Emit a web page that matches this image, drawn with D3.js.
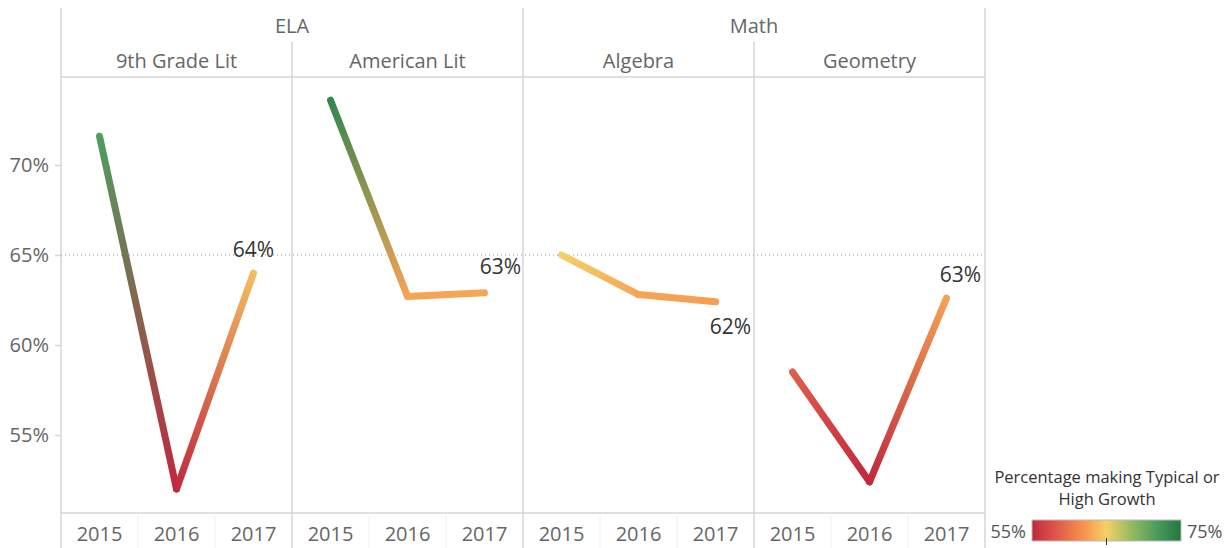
<!DOCTYPE html>
<html lang="en">
<head>
    <meta charset="UTF-8">
    <title>Growth by course</title>
    <style>
        body { margin: 0; background: #fff; }
        svg text { font-family: "Open Sans", Lato, sans-serif; }
    </style>
</head>
<body>
    <div class="canvas"></div>

    <script src="https://d3js.org/d3.v7.min.js"></script>
    <script>
        // data
        const subjects = ["ELA", "Math"];
        const courses = ["9th Grade Lit", "American Lit", "Algebra", "Geometry"];
        const courseSubject = ["ELA", "ELA", "Math", "Math"];
        const years = ["2015", "2016", "2017"];
        const lit9 = [71.6, 52.0, 64.0];
        const amLit = [73.6, 62.7, 62.9];
        const algebra = [65.0, 62.8, 62.4];
        const geometry = [58.5, 52.4, 62.6];
        const yTicks = [55, 60, 65, 70];
        const refValue = 65;
        const legendTicks = [55, 75];

        const series = [lit9, amLit, algebra, geometry];

        const W = 1231, H = 548;
        const left = 61, panelW = 231;
        const plotTop = 77, plotBottom = 513;
        const gridColor = "#d6d6d6";

        const svg = d3.select(".canvas").append("svg")
            .attr("width", W).attr("height", H);

        const y = d3.scaleLinear()
            .domain([55 - (plotBottom - 435) / 18, 70 + (165 - plotTop) / 18])
            .range([plotBottom, plotTop]);

        const panelX = d3.scaleBand().domain(courses).range([left, left + panelW * courses.length]);
        const x = d3.scalePoint().domain(years).range([0, panelW]).padding(0.5);

        const color = d3.scaleLinear()
            .domain([55, 58.33, 61.67, 65, 68.33, 71.67, 75])
            .range(["#c0283e", "#e0594a", "#f68f4c", "#f4d068", "#94bb5f", "#4c9c5e", "#23763f"])
            .clamp(true);

        // faint separators in the year axis
        courses.forEach(c => {
            [1, 2].forEach(k => {
                svg.append("line")
                    .attr("x1", panelX(c) + k * x.step()).attr("x2", panelX(c) + k * x.step())
                    .attr("y1", plotBottom + 2).attr("y2", H)
                    .attr("stroke", "#f0f0f0");
            });
        });

        // header labels
        subjects.forEach(s => {
            const idx = courseSubject.map((d, i) => d === s ? i : -1).filter(i => i >= 0);
            const x0 = panelX(courses[idx[0]]);
            const x1 = panelX(courses[idx[idx.length - 1]]) + panelW;
            svg.append("text")
                .attr("x", (x0 + x1) / 2).attr("y", 33)
                .attr("text-anchor", "middle")
                .attr("font-size", 20).attr("fill", "#666")
                .text(s);
        });
        courses.forEach(c => {
            svg.append("text")
                .attr("x", panelX(c) + panelW / 2).attr("y", 68)
                .attr("text-anchor", "middle")
                .attr("font-size", 20).attr("fill", "#666")
                .text(c);
        });

        // grid lines
        svg.append("line").attr("x1", left).attr("x2", left + panelW * 4)
            .attr("y1", plotTop).attr("y2", plotTop).attr("stroke", gridColor).attr("stroke-width", 1.5);
        svg.append("line").attr("x1", left).attr("x2", left + panelW * 4)
            .attr("y1", plotBottom).attr("y2", plotBottom).attr("stroke", gridColor).attr("stroke-width", 1.5);

        courses.forEach((c, i) => {
            const xx = panelX(c);
            const startY = (i === 0 || courseSubject[i] !== courseSubject[i - 1]) ? 8 : 42;
            svg.append("line").attr("x1", xx).attr("x2", xx)
                .attr("y1", startY).attr("y2", H).attr("stroke", gridColor).attr("stroke-width", 1.5);
        });
        svg.append("line").attr("x1", left + panelW * 4).attr("x2", left + panelW * 4)
            .attr("y1", 8).attr("y2", H).attr("stroke", gridColor).attr("stroke-width", 1.5);

        // y axis
        const yAxis = svg.append("g")
            .attr("transform", `translate(${left},0)`)
            .call(d3.axisLeft(y).tickValues(yTicks).tickFormat(d => d + "%").tickSize(6).tickPadding(6));
        yAxis.select(".domain").remove();
        yAxis.selectAll(".tick line").attr("stroke", gridColor).attr("stroke-width", 1.5);
        yAxis.selectAll(".tick text").attr("font-size", 20).attr("fill", "#666")
            .style("font-family", "'Open Sans', sans-serif");

        // reference line
        svg.append("line")
            .attr("x1", left).attr("x2", left + panelW * 4)
            .attr("y1", y(refValue)).attr("y2", y(refValue))
            .attr("stroke", "#999").attr("stroke-width", 1)
            .attr("stroke-dasharray", "1,3");

        const defs = svg.append("defs");
        const labelPos = [[0, -16], [16, -19], [15, 32], [14, -16]];

        courses.forEach((c, i) => {
            const vals = series[i];
            const g = svg.append("g").attr("transform", `translate(${panelX(c)},0)`);

            // year labels
            years.forEach(yr => {
                g.append("text")
                    .attr("x", x(yr)).attr("y", 541)
                    .attr("text-anchor", "middle")
                    .attr("font-size", 20).attr("fill", "#666")
                    .text(yr);
            });

            const pts = years.map((yr, k) => ({ x: x(yr), y: y(vals[k]), v: vals[k] }));
            for (let k = 0; k < pts.length - 1; k++) {
                const a = pts[k], b = pts[k + 1];
                const id = `grad-${i}-${k}`;
                const grad = defs.append("linearGradient")
                    .attr("id", id)
                    .attr("gradientUnits", "userSpaceOnUse")
                    .attr("x1", a.x).attr("y1", a.y)
                    .attr("x2", b.x).attr("y2", b.y);
                grad.append("stop").attr("offset", "0%").attr("stop-color", color(a.v));
                grad.append("stop").attr("offset", "100%").attr("stop-color", color(b.v));

                g.append("line")
                    .attr("x1", a.x).attr("y1", a.y)
                    .attr("x2", b.x).attr("y2", b.y)
                    .attr("stroke", `url(#${id})`)
                    .attr("stroke-width", 7)
                    .attr("stroke-linecap", "round");
            }

            const last = pts[pts.length - 1];
            g.append("text")
                .attr("x", last.x + labelPos[i][0]).attr("y", last.y + labelPos[i][1])
                .attr("text-anchor", "middle")
                .attr("font-size", 21).attr("fill", "#333")
                .text(Math.round(last.v) + "%");
        });

        // legend
        const lg = svg.append("g");
        lg.append("text").attr("x", 1107).attr("y", 483).attr("text-anchor", "middle")
            .attr("font-size", 16.5).attr("fill", "#333").text("Percentage making Typical or");
        lg.append("text").attr("x", 1107).attr("y", 505).attr("text-anchor", "middle")
            .attr("font-size", 16.5).attr("fill", "#333").text("High Growth");

        const lx = d3.scaleLinear().domain(legendTicks).range([1032, 1181]);
        const lgrad = defs.append("linearGradient").attr("id", "legend-grad");
        color.domain().forEach(v => {
            lgrad.append("stop")
                .attr("offset", ((v - 55) / 20 * 100) + "%")
                .attr("stop-color", color(v));
        });
        lg.append("rect")
            .attr("x", lx(55)).attr("y", 520)
            .attr("width", lx(75) - lx(55)).attr("height", 21)
            .attr("fill", "url(#legend-grad)")
            .attr("stroke", "#bbb");
        lg.append("line")
            .attr("x1", lx(refValue)).attr("x2", lx(refValue))
            .attr("y1", 538).attr("y2", 545)
            .attr("stroke", "#333");
        lg.append("text").attr("x", lx(55) - 6).attr("y", 538).attr("text-anchor", "end")
            .attr("font-size", 18).attr("fill", "#555").text(legendTicks[0] + "%");
        lg.append("text").attr("x", lx(75) + 6).attr("y", 538).attr("text-anchor", "start")
            .attr("font-size", 18).attr("fill", "#555").text(legendTicks[1] + "%");
    </script>
</body>
</html>
